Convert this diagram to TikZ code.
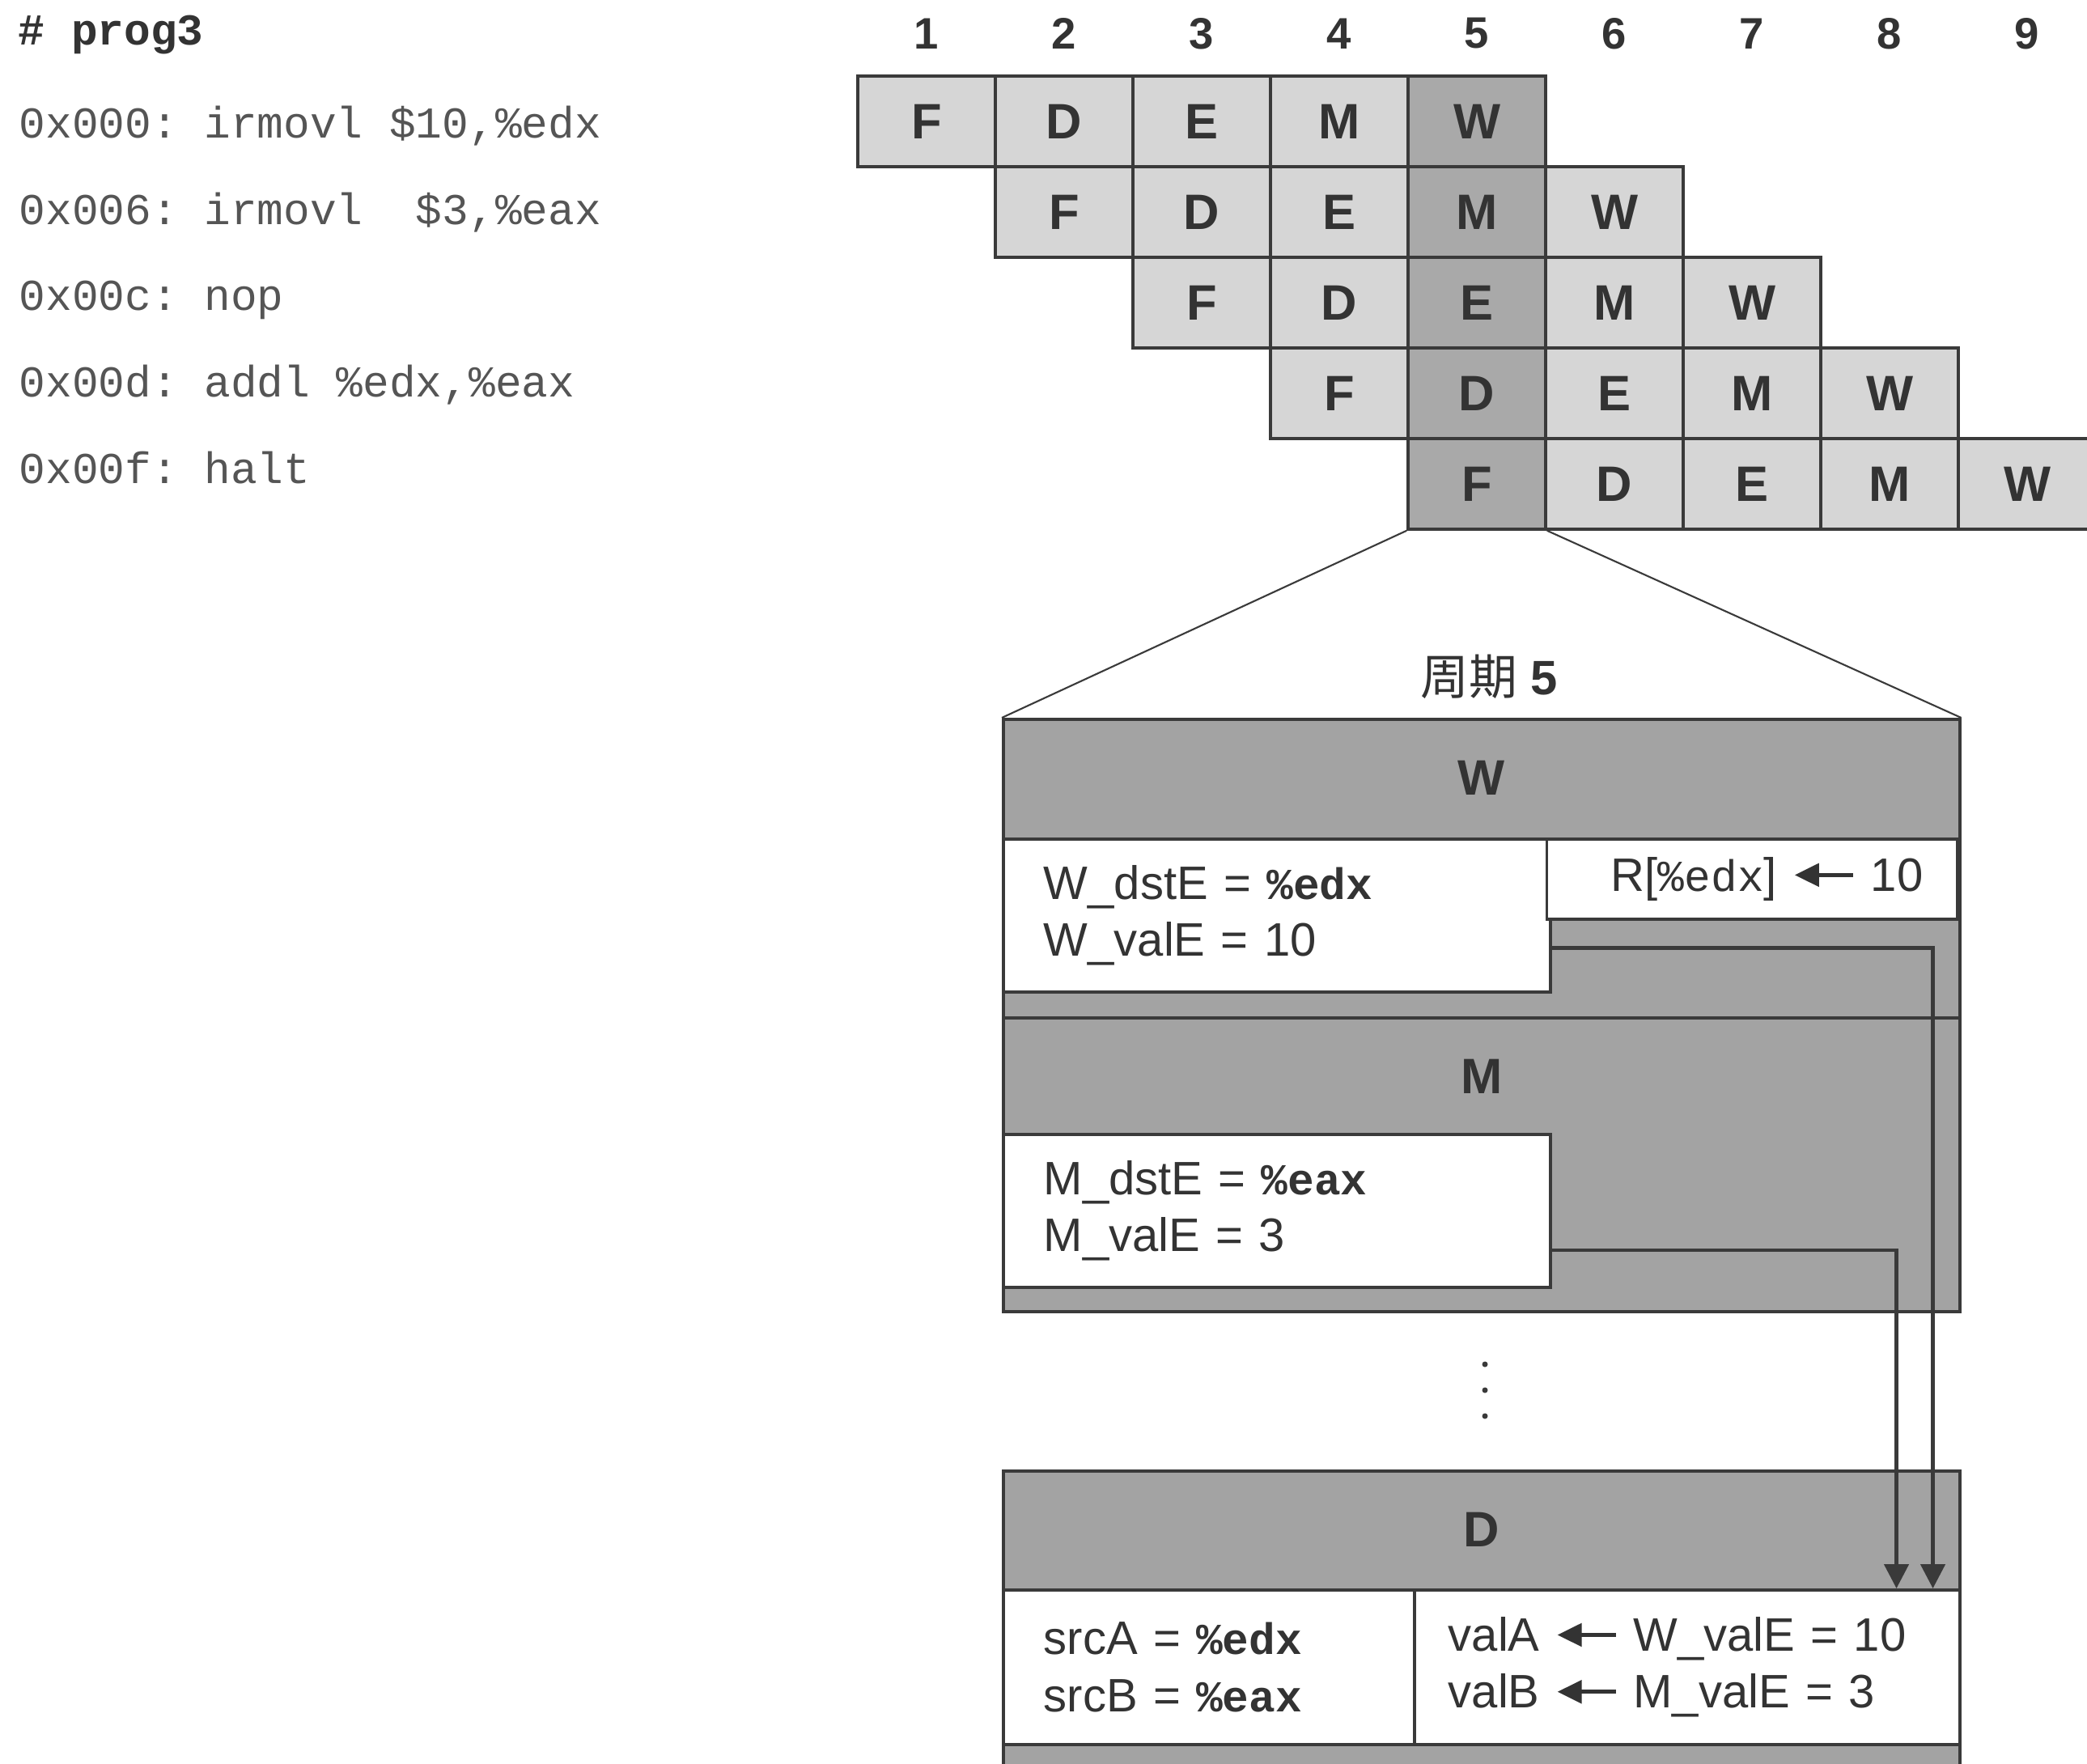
\documentclass[tikz,border=0pt]{standalone}
\usepackage{fontspec}
\setmainfont{Liberation Sans}
\setmonofont{Liberation Mono}
\newfontfamily\cjkfont{Noto Sans CJK SC}
\definecolor{pgLine}{HTML}{3A3A3A}
\definecolor{pgCell}{HTML}{D6D6D6}
\definecolor{pgHot}{HTML}{A9A9A9}
\definecolor{pgStage}{HTML}{A3A3A3}
\definecolor{pgCode}{HTML}{555555}
\definecolor{pgText}{HTML}{333333}
\usetikzlibrary{arrows.meta,positioning}

\newcommand{\reg}[1]{{\ttfamily\bfseries\fontsize{15.5}{19}\selectfont\%#1}}
\newcommand{\regl}[1]{{\ttfamily\fontsize{15.5}{19}\selectfont\%#1}}
\newcommand{\getsto}{\tikz[baseline=-0.65ex]\draw[pgText, line width=1.5pt,
  {Triangle[length=3mm,width=2.8mm]}-] (0,0) -- (0.72,0);}

\begin{document}
\begin{tikzpicture}[
    every node/.style={text=pgText},
    cyc/.style={inner sep=0pt, font=\fontsize{15.5}{18}\selectfont\bfseries},
    cell/.style={draw=pgLine, line width=1pt, minimum width=1.7cm,
                 minimum height=1.12cm, inner sep=0pt,
                 font=\fontsize{17.5}{20}\selectfont\bfseries},
    asm/.style={anchor=base west, inner sep=0pt, text=pgCode,
                font=\ttfamily\fontsize{15.5}{19}\selectfont},
    stage/.style={draw=pgLine, line width=1pt, fill=pgStage,
                  minimum width=11.82cm, inner sep=0pt, anchor=north west},
    hdr/.style={inner sep=0pt, font=\fontsize{17.5}{20}\selectfont\bfseries},
    slot/.style={draw=pgLine, line width=1pt, fill=white, inner xsep=0.5cm,
                 inner ysep=0pt, align=left, anchor=north west,
                 font=\fontsize{16.5}{20}\selectfont},
    fwd/.style={-{Triangle[length=3mm,width=3mm]}, line width=1.3pt, pgLine},
    zoomline/.style={pgLine, line width=0.6pt}
  ]
    \useasboundingbox (0,0) rectangle (25.79,-21.79);

    % program listing
    \node[asm, text=pgText, font=\ttfamily\bfseries\fontsize{15.5}{19}\selectfont]
      (prog) at (0.22,-0.55) {\# prog3};
    \node[asm] (l1) at (0.23,-1.70) {0x000: irmovl \$10,\%edx};
    \node[asm] (l2) at (0.23,-2.77) {0x006: irmovl\ \ \$3,\%eax};
    \node[asm] (l3) at (0.23,-3.83) {0x00c: nop};
    \node[asm] (l4) at (0.23,-4.90) {0x00d: addl \%edx,\%eax};
    \node[asm] (l5) at (0.23,-5.97) {0x00f: halt};

    % pipeline chart
    \foreach \k in {1,...,9}
      \node[cyc] (cy\k) at ({11.45+1.7*(\k-1)},-0.415) {\k};
    \foreach \row in {1,...,5}
      \foreach \stg [count=\s] in {F,D,E,M,W}{
        \pgfmathtruncatemacro{\col}{\row+\s-1}
        \ifnum\col=5 \def\cellfill{pgHot}\else\def\cellfill{pgCell}\fi
        \node[cell, fill=\cellfill] (s\row\col)
          at ({11.45+1.7*(\col-1)},{-1.50-1.12*(\row-1)}) {\stg};
      }

    % cycle 5 close-up
    \node[inner sep=0pt, font=\fontsize{17}{20}\selectfont] (cap)
      at (18.40,-8.36) {{\cjkfont 周期} \textbf{5}};

    \node[stage, minimum height=3.69cm] (wst) at (12.38,-8.87) {};
    \node[hdr, below=0.52cm of wst.north] (wlbl) {W};
    \node[slot, text width=5.76cm, minimum height=1.89cm] (wleft)
      at (12.38,-10.35) {W\_dstE = \reg{edx}\\W\_valE = 10};
    \node[slot, anchor=north east, align=right, inner xsep=0.42cm,
          text width=4.23cm, minimum height=0.99cm] (wright)
      at (24.20,-10.35) {R[\regl{edx}] \getsto\ 10};

    \node[stage, minimum height=3.63cm] (mst) at (12.38,-12.56) {};
    \node[hdr, below=0.52cm of mst.north] (mlbl) {M};
    \node[slot, text width=5.76cm, minimum height=1.89cm] (mleft)
      at (12.38,-14.00) {M\_dstE = \reg{eax}\\M\_valE = 3};

    \foreach \y in {-16.86,-17.18,-17.50}
      \fill[pgLine] (18.35,\y) circle (0.035);

    \node[stage, minimum height=4.3cm] (dst) at (12.38,-18.16) {};
    \node[hdr, below=0.52cm of dst.north] (dlbl) {D};
    \node[slot, text width=4.08cm, minimum height=1.91cm] (dleft)
      at (12.38,-19.63) {srcA = \reg{edx}\\srcB = \reg{eax}};
    \node[slot, inner xsep=0.42cm, text width=5.90cm, minimum height=1.91cm]
      (dright) at (17.46,-19.63)
      {valA \getsto\ W\_valE = 10\\valB \getsto\ M\_valE = 3};

    % forwarding paths
    \draw[fwd] ([yshift=-0.405cm]wleft.east) -| ([xshift=-0.35cm]dright.north east);
    \draw[fwd] ([yshift=-0.485cm]mleft.east) -| ([xshift=-0.80cm]dright.north east);

    \draw[zoomline] (s55.south west) -- (wst.north west);
    \draw[zoomline] (s55.south east) -- (wst.north east);
  \end{tikzpicture}
\end{document}
